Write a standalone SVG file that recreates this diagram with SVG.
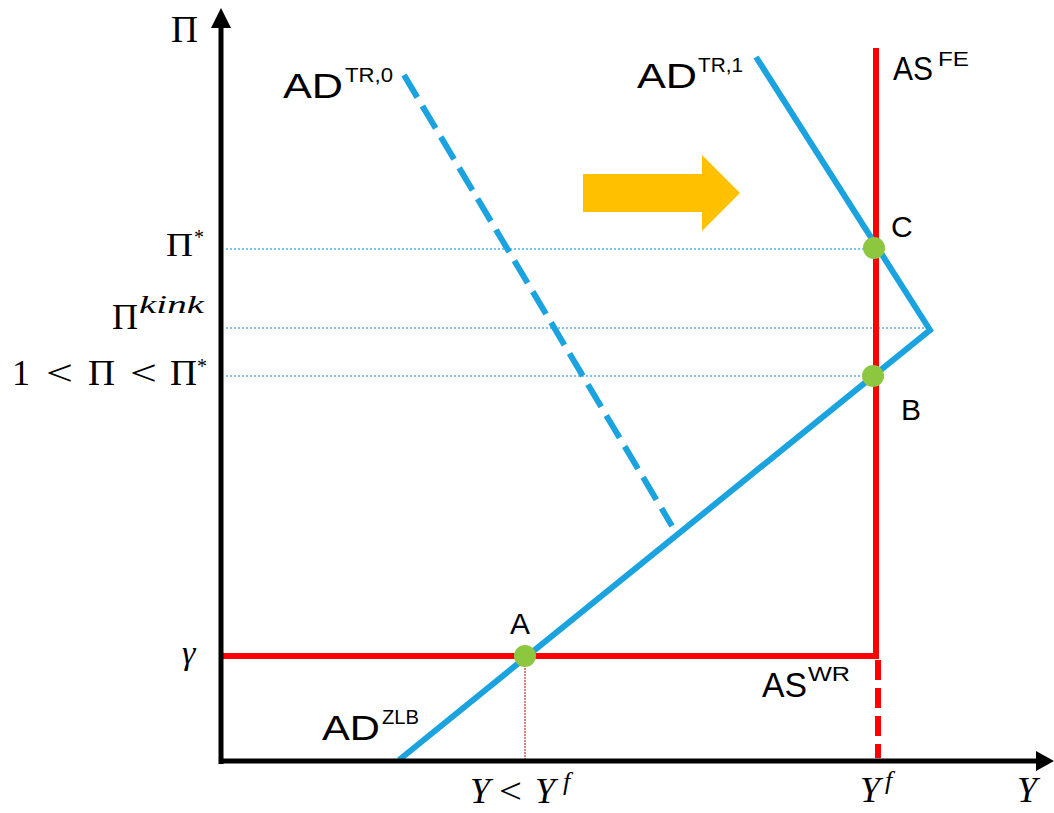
<svg xmlns="http://www.w3.org/2000/svg" width="1054" height="813" viewBox="0 0 1054 813">
<style>
.ax{stroke:#000;stroke-width:5;fill:none}
.blue{stroke:#1BA3E0;stroke-width:6;fill:none}
.red{stroke:#FF0000;stroke-width:6;fill:none}
.guide{stroke:#4FB0E6;stroke-width:1.5;stroke-dasharray:2 2;fill:none}
.dot{fill:#8DC63F}
.lbl{font-family:"Liberation Sans",Arial,sans-serif;fill:#000}
.math{font-family:"Liberation Serif","DejaVu Serif",serif;fill:#000}
.it{font-style:italic}
</style>
<rect width="1054" height="813" fill="#fff"/>
<g id="guides">
<line class="guide" x1="226" y1="249" x2="866" y2="249"/>
<line class="guide" x1="226" y1="328" x2="926" y2="328"/>
<line class="guide" x1="226" y1="376" x2="866" y2="376"/>
<line x1="525" y1="662" x2="525" y2="759" stroke="#C00000" stroke-width="1" stroke-dasharray="2 1"/>
</g>
<g id="connectors">
<line class="red" x1="876" y1="48" x2="876" y2="659"/>
<line class="red" x1="878" y1="660" x2="878" y2="758" stroke-dasharray="20 8"/>
<line class="red" x1="222" y1="656" x2="879" y2="656"/>
<polyline class="blue" points="399,760 930,330 756,57"/>
<line class="blue" x1="404" y1="75" x2="672" y2="526" stroke-dasharray="26 10"/>
</g>
<g id="axes">
<line class="ax" x1="221" y1="764" x2="221" y2="24"/>
<polygon points="221,8 211,28 231,28" fill="#000"/>
<line class="ax" x1="219" y1="761" x2="1040" y2="761"/>
<polygon points="1054,761 1036,751 1036,771" fill="#000"/>
</g>
<g id="shift-arrow">
<polygon points="583,174 702,174 702,155 740,193 702,231 702,212 583,212" fill="#FFC000"/>
</g>
<g id="point-A">
<circle class="dot" cx="525" cy="656" r="11"/>
<text class="lbl" x="510" y="634" font-size="30">A</text>
</g>
<g id="point-B">
<circle class="dot" cx="873" cy="376" r="11"/>
<text class="lbl" x="901" y="420" font-size="30">B</text>
</g>
<g id="point-C">
<circle class="dot" cx="874" cy="248" r="11"/>
<text class="lbl" x="891" y="237" font-size="30">C</text>
</g>
<g id="curve-labels">
<text class="lbl" x="283" y="98" font-size="35" textLength="60" lengthAdjust="spacingAndGlyphs">AD</text>
<text class="lbl" x="345" y="82" font-size="21" textLength="48" lengthAdjust="spacingAndGlyphs">TR,0</text>
<text class="lbl" x="637" y="88" font-size="35" textLength="60" lengthAdjust="spacingAndGlyphs">AD</text>
<text class="lbl" x="698" y="72" font-size="21" textLength="45" lengthAdjust="spacingAndGlyphs">TR,1</text>
<text class="lbl" x="893" y="80" font-size="33" textLength="40" lengthAdjust="spacingAndGlyphs">AS</text>
<text class="lbl" x="938" y="66" font-size="21" textLength="31" lengthAdjust="spacingAndGlyphs">FE</text>
<text class="lbl" x="322" y="740" font-size="35" textLength="58" lengthAdjust="spacingAndGlyphs">AD</text>
<text class="lbl" x="382" y="724" font-size="21" textLength="37" lengthAdjust="spacingAndGlyphs">ZLB</text>
<text class="lbl" x="762" y="697" font-size="35" textLength="45" lengthAdjust="spacingAndGlyphs">AS</text>
<text class="lbl" x="808" y="681" font-size="21" textLength="42" lengthAdjust="spacingAndGlyphs">WR</text>
</g>
<g id="axis-labels">
<text class="math" x="171" y="42" font-size="38" textLength="27" lengthAdjust="spacingAndGlyphs">Π</text>
<text class="math" x="166" y="256" font-size="34" textLength="27" lengthAdjust="spacingAndGlyphs">Π</text>
<text class="math" x="194" y="244" font-size="20">*</text>
<text class="math" x="112" y="329" font-size="36" textLength="26" lengthAdjust="spacingAndGlyphs">Π</text>
<text class="math it" x="139" y="313" font-size="25" textLength="65" lengthAdjust="spacingAndGlyphs">kink</text>
<text class="math" x="12" y="385" font-size="36">1</text>
<text class="math" x="46" y="385" font-size="36" textLength="27" lengthAdjust="spacingAndGlyphs">&lt;</text>
<text class="math" x="88" y="385" font-size="36" textLength="27" lengthAdjust="spacingAndGlyphs">Π</text>
<text class="math" x="130" y="385" font-size="36" textLength="27" lengthAdjust="spacingAndGlyphs">&lt;</text>
<text class="math" x="170" y="385" font-size="36" textLength="27" lengthAdjust="spacingAndGlyphs">Π</text>
<text class="math" x="197" y="373" font-size="20">*</text>
<text class="math it" x="182" y="664" font-size="34">γ</text>
<text class="math it" x="470" y="803" font-size="36">Y</text>
<text class="math" x="499" y="803" font-size="36" textLength="23" lengthAdjust="spacingAndGlyphs">&lt;</text>
<text class="math it" x="535" y="803" font-size="36">Y</text>
<text class="math it" x="563" y="790" font-size="26">f</text>
<text class="math it" x="860" y="802" font-size="36">Y</text>
<text class="math it" x="885" y="789" font-size="26">f</text>
<text class="math it" x="1017" y="802" font-size="36">Y</text>
</g>
</svg>
